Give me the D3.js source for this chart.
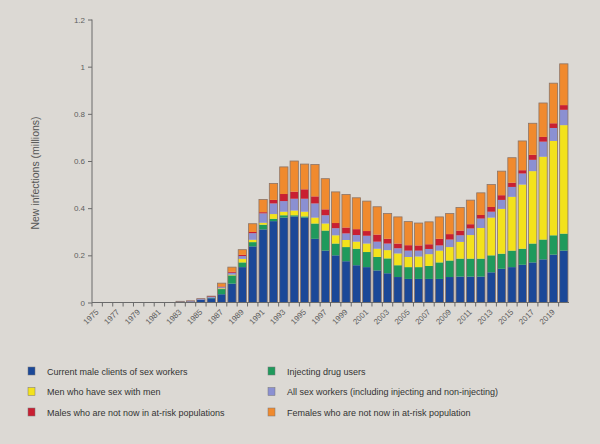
<!DOCTYPE html>
<html>
<head>
<meta charset="utf-8">
<script src="https://cdn.jsdelivr.net/npm/d3@7"></script>
<style>
  body { margin: 0; background: #dcd9d4; }
  svg { font-family: "Liberation Sans", Arial, sans-serif; }
  .axis path, .axis line { stroke: #6a6a6a; }
  .axis text { fill: #5e5e5e; font-size: 8px; }
</style>
</head>
<body>
<div id="chart-area"></div>
<script>

// SVG Size
var width = 600,
    height = 444;

var margin = {left: 92, right: 31, top: 19.5, bottom: 141.5};

// Data (new infections, millions)
var years = d3.range(1975, 2021);

var clients   = [0,0,0,0,0,0,0,0, .003,.004,.012,.018,.035,.08,.15,.238,.31,.345,.36,.365,.36,.27,.22,.2,.175,.158,.15,.136,.124,.108,.1,.1,.1,.1,.108,.11,.11,.11,.128,.143,.15,.16,.17,.183,.203,.22];
var idu       = [0,0,0,0,0,0,0,0, 0,0,0,.002,.022,.035,.02,.018,.02,.01,.01,.005,.005,.065,.085,.05,.06,.07,.064,.057,.063,.05,.05,.05,.055,.07,.07,.076,.076,.076,.072,.064,.07,.068,.08,.084,.082,.072];
var msm       = [0,0,0,0,0,0,0,0, 0,0,0,0,.003,.003,.015,.01,.008,.02,.015,.02,.02,.025,.03,.035,.03,.03,.036,.035,.035,.05,.043,.045,.05,.05,.057,.071,.1,.13,.16,.19,.228,.272,.307,.351,.4,.46];
var sexWorkers = [0,0,0,0,0,0,0,0, .002,.002,.003,.004,.005,.008,.012,.028,.04,.045,.045,.05,.055,.06,.035,.03,.028,.028,.033,.03,.028,.022,.027,.025,.022,.022,.032,.028,.028,.04,.025,.038,.042,.047,.048,.064,.055,.065];
var males     = [0,0,0,0,0,0,0,0, 0,.001,.001,.003,.003,.004,.005,.005,.005,.015,.03,.03,.04,.03,.025,.022,.025,.025,.02,.03,.02,.02,.023,.022,.02,.028,.023,.02,.018,.015,.02,.02,.018,.014,.021,.02,.02,.02];
var females   = [0,0,0,0,0,0,0,0, 0,0,0,0,.014,.02,.022,.035,.054,.07,.115,.13,.107,.135,.13,.132,.14,.133,.127,.118,.107,.113,.1,.095,.095,.093,.087,.098,.102,.094,.095,.102,.106,.124,.134,.144,.17,.175];

var seriesKeys = ["clients", "idu", "msm", "sexWorkers", "males", "females"];
var seriesNames = ["Current male clients of sex workers", "Injecting drug users", "Men who have sex with men",
                   "All sex workers (including injecting and non-injecting)", "Males who are not now in at-risk populations",
                   "Females who are not now in at-risk population"];
var seriesColors = ["#1b4898", "#1f9a5c", "#f3e21c", "#8b90d2", "#c91f32", "#f08a2e"];

var yTicks = [0, 0.2, 0.4, 0.6, 0.8, 1, 1.2];
var xTickYears = d3.range(1975, 2021, 2);

// Build rows for the stack
var table = years.map(function(y, i) {
    return {year: y, clients: clients[i], idu: idu[i], msm: msm[i],
            sexWorkers: sexWorkers[i], males: males[i], females: females[i]};
});

var stacked = d3.stack().keys(seriesKeys)(table);

var svg = d3.select("#chart-area")
    .append("svg")
    .attr("width", width)
    .attr("height", height);

// Scales
var x = d3.scaleBand()
    .domain(years)
    .range([margin.left, width - margin.right])
    .paddingInner(0.2)
    .paddingOuter(0.1);

var y = d3.scaleLinear()
    .domain([0, 1.2])
    .range([height - margin.bottom, margin.top]);

var color = d3.scaleOrdinal()
    .domain(seriesKeys)
    .range(seriesColors);

// Bars
svg.selectAll("g.layer")
    .data(stacked)
    .enter()
    .append("g")
    .attr("class", "layer")
    .attr("fill", d => color(d.key))
    .selectAll("rect")
    .data(d => d.filter(p => p[1] - p[0] > 0))
    .enter()
    .append("rect")
    .attr("x", d => x(d.data.year))
    .attr("y", d => y(d[1]))
    .attr("width", x.bandwidth())
    .attr("height", d => y(d[0]) - y(d[1]));

// thin outline around each whole bar
svg.selectAll("rect.outline")
    .data(table.filter(d => d.clients > 0))
    .enter()
    .append("rect")
    .attr("class", "outline")
    .attr("x", d => x(d.year))
    .attr("y", d => y(d3.sum(seriesKeys, k => d[k])))
    .attr("width", x.bandwidth())
    .attr("height", d => y(0) - y(d3.sum(seriesKeys, k => d[k])))
    .attr("fill", "none")
    .attr("stroke", "#8c7466")
    .attr("stroke-width", 0.8);

// Axes
var yAxis = d3.axisLeft(y)
    .tickValues(yTicks)
    .tickSize(4)
    .tickFormat(d3.format("~g"));

svg.append("g")
    .attr("class", "axis y-axis")
    .attr("transform", "translate(" + margin.left + ",0)")
    .call(yAxis)
    .call(g => g.select(".domain").attr("d", "M0," + y(1.2) + "V" + y(0)));

// x axis: ticks at every band edge, labels every other year
var xAxisG = svg.append("g")
    .attr("class", "axis x-axis")
    .attr("transform", "translate(0," + y(0) + ")");

xAxisG.append("line")
    .attr("x1", margin.left)
    .attr("x2", width - margin.right)
    .attr("stroke", "#6a6a6a");

var step = x.step();
xAxisG.selectAll("line.tick")
    .data(years)
    .enter()
    .append("line")
    .attr("class", "tick")
    .attr("x1", d => x(d) - step * 0.1)
    .attr("x2", d => x(d) - step * 0.1)
    .attr("y2", 4)
    .attr("stroke", "#6a6a6a");

xAxisG.selectAll("text")
    .data(xTickYears)
    .enter()
    .append("text")
    .attr("text-anchor", "end")
    .attr("transform", d => "translate(" + (x(d) + x.bandwidth() / 2 + 2) + ",10)rotate(-45)")
    .text(d => d);

// Axis title
svg.append("text")
    .attr("text-anchor", "middle")
    .attr("transform", "translate(39," + ((y(0) + y(1.2)) / 2 + 12) + ")rotate(-90)")
    .attr("fill", "#555")
    .style("font-size", "10.5px")
    .text("New infections (millions)");

// Legend: two columns, three rows
var legendOrder = [0, 2, 4, 1, 3, 5];
var legend = svg.selectAll("g.legend")
    .data(legendOrder)
    .enter()
    .append("g")
    .attr("class", "legend")
    .attr("transform", function(d, i) {
        var col = Math.floor(i / 3), row = i % 3;
        return "translate(" + (col === 0 ? 28 : 268) + "," + (367 + row * 20.5) + ")";
    });

legend.append("rect")
    .attr("width", 7)
    .attr("height", 8)
    .attr("fill", d => seriesColors[d])
    .attr("stroke", "#777")
    .attr("stroke-width", 0.5);

legend.append("text")
    .attr("x", 19)
    .attr("y", 7.5)
    .attr("fill", "#333")
    .style("font-size", "9px")
    .text(d => seriesNames[d]);

</script>
</body>
</html>
